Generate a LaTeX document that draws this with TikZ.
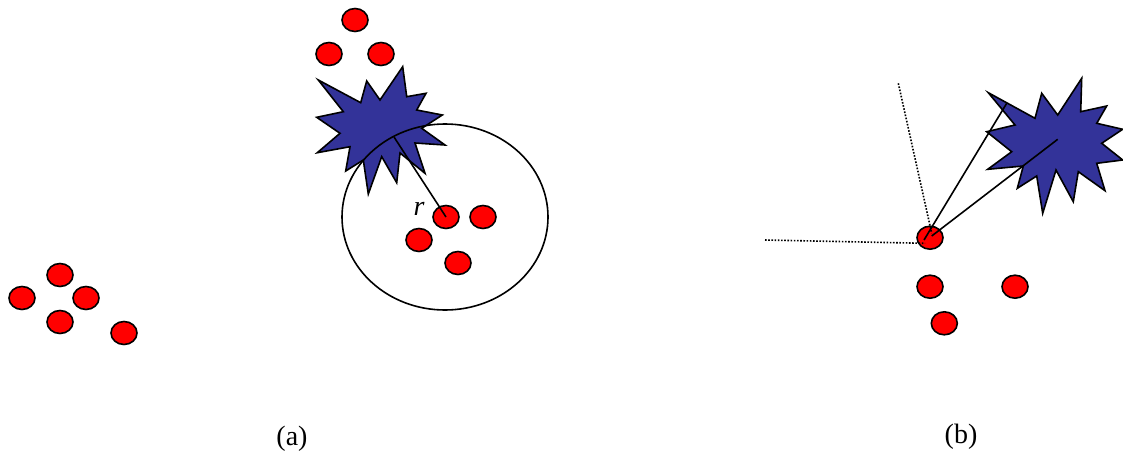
\documentclass[tikz,border=0pt]{standalone}
\usepackage{fontspec}
\setmainfont{Liberation Serif}
\usetikzlibrary{shapes.geometric}
\definecolor{starblue}{RGB}{51,51,153}
\tikzset{
  dot/.style={ellipse, draw=black, fill=red, line width=1.6pt, minimum width=26pt, minimum height=23pt, inner sep=0pt},
  burst/.style={draw=black, fill=starblue, line width=1.6pt, line join=miter},
  conn/.style={draw=black, line width=1.6pt},
  dotline/.style={draw=black, line width=1.6pt, dash pattern=on 1.6pt off 1.6pt},
  lbl/.style={font=\fontsize{28}{32}\selectfont, inner sep=0pt}
}
\begin{document}
\begin{tikzpicture}[x=1pt,y=-1pt]
\useasboundingbox (0,0) rectangle (1123,455);
% ---------- (a) ----------
\node[dot] (l1) at (60,275) {};
\node[dot] (l2) at (22,298) {};
\node[dot] (l3) at (86,298) {};
\node[dot] (l4) at (60,322) {};
\node[dot] (l5) at (124,333) {};
\node[dot] (t1) at (355,20) {};
\node[dot] (t2) at (329,54) {};
\node[dot] (t3) at (381,54) {};
\path[burst] (318.3,80) -- (360.7,102.7) -- (366.7,81) -- (380,100) -- (402.7,66.7)
  -- (406.7,96.7) -- (426,93.3) -- (416.7,110) -- (442.3,115) -- (421.7,128.3)
  -- (445,145) -- (415,143) -- (425,173.3) -- (400,153) -- (396.7,182.7)
  -- (381.7,156.7) -- (368.3,194) -- (363.3,160) -- (345.7,171) -- (350,146.7)
  -- (317.3,152.7) -- (340,133.3) -- (316.7,117.3) -- (343.3,111.7) -- cycle;
\node[ellipse, draw=black, line width=1.6pt, minimum width=206pt, minimum height=186pt, inner sep=0pt] (zone) at (445,217) {};
\node[dot] (c1) at (446,217) {};
\node[dot] (c2) at (483,217) {};
\node[dot] (c3) at (419,240) {};
\node[dot] (c4) at (458,263) {};
\coordinate (redge) at (394,137);
\draw[conn] (redge) -- (c1.center);
\node[lbl, font=\fontsize{28}{32}\selectfont\itshape] (rlab) at (419,209) {r};
\node[lbl] (la) at (292,439) {(a)};
% ---------- (b) ----------
\path[burst] (988.3,92.7) -- (1035,118.3) -- (1041.7,93.3) -- (1057.7,115) -- (1081.7,78.3)
  -- (1080.7,111.7) -- (1106.7,106) -- (1096.7,123.3) -- (1122.7,129.3) -- (1101.7,143.3)
  -- (1122.7,160) -- (1096.7,163.3) -- (1105,190.7) -- (1078.3,171.7) -- (1073.3,201.7)
  -- (1056,170) -- (1042.7,213.3) -- (1036.7,176) -- (1017.3,188.3) -- (1023.3,166)
  -- (987.7,169.3) -- (1011.7,151.7) -- (986.7,131.7) -- (1015,125) -- cycle;
\node[dot] (b1) at (930,237.7) {};
\node[dot] (b2) at (930,286.7) {};
\node[dot] (b3) at (1015,286.7) {};
\node[dot] (b4) at (944.3,323.3) {};
\coordinate (s1) at (1006.7,103.3);
\coordinate (s2) at (1057.7,139.3);
\coordinate (e1) at (924,240);
\coordinate (e2) at (931.7,236);
\coordinate (d1) at (898.3,83.3);
\coordinate (d1e) at (931.7,233.3);
\coordinate (d2) at (765,240);
\coordinate (d2e) at (925,243.3);
\draw[dotline] (d1) -- (d1e);
\draw[dotline] (d2) -- (d2e);
\draw[conn] (s1) -- (e1);
\draw[conn] (s2) -- (e2);
\node[lbl] (lb) at (961,437) {(b)};
\end{tikzpicture}
\end{document}
